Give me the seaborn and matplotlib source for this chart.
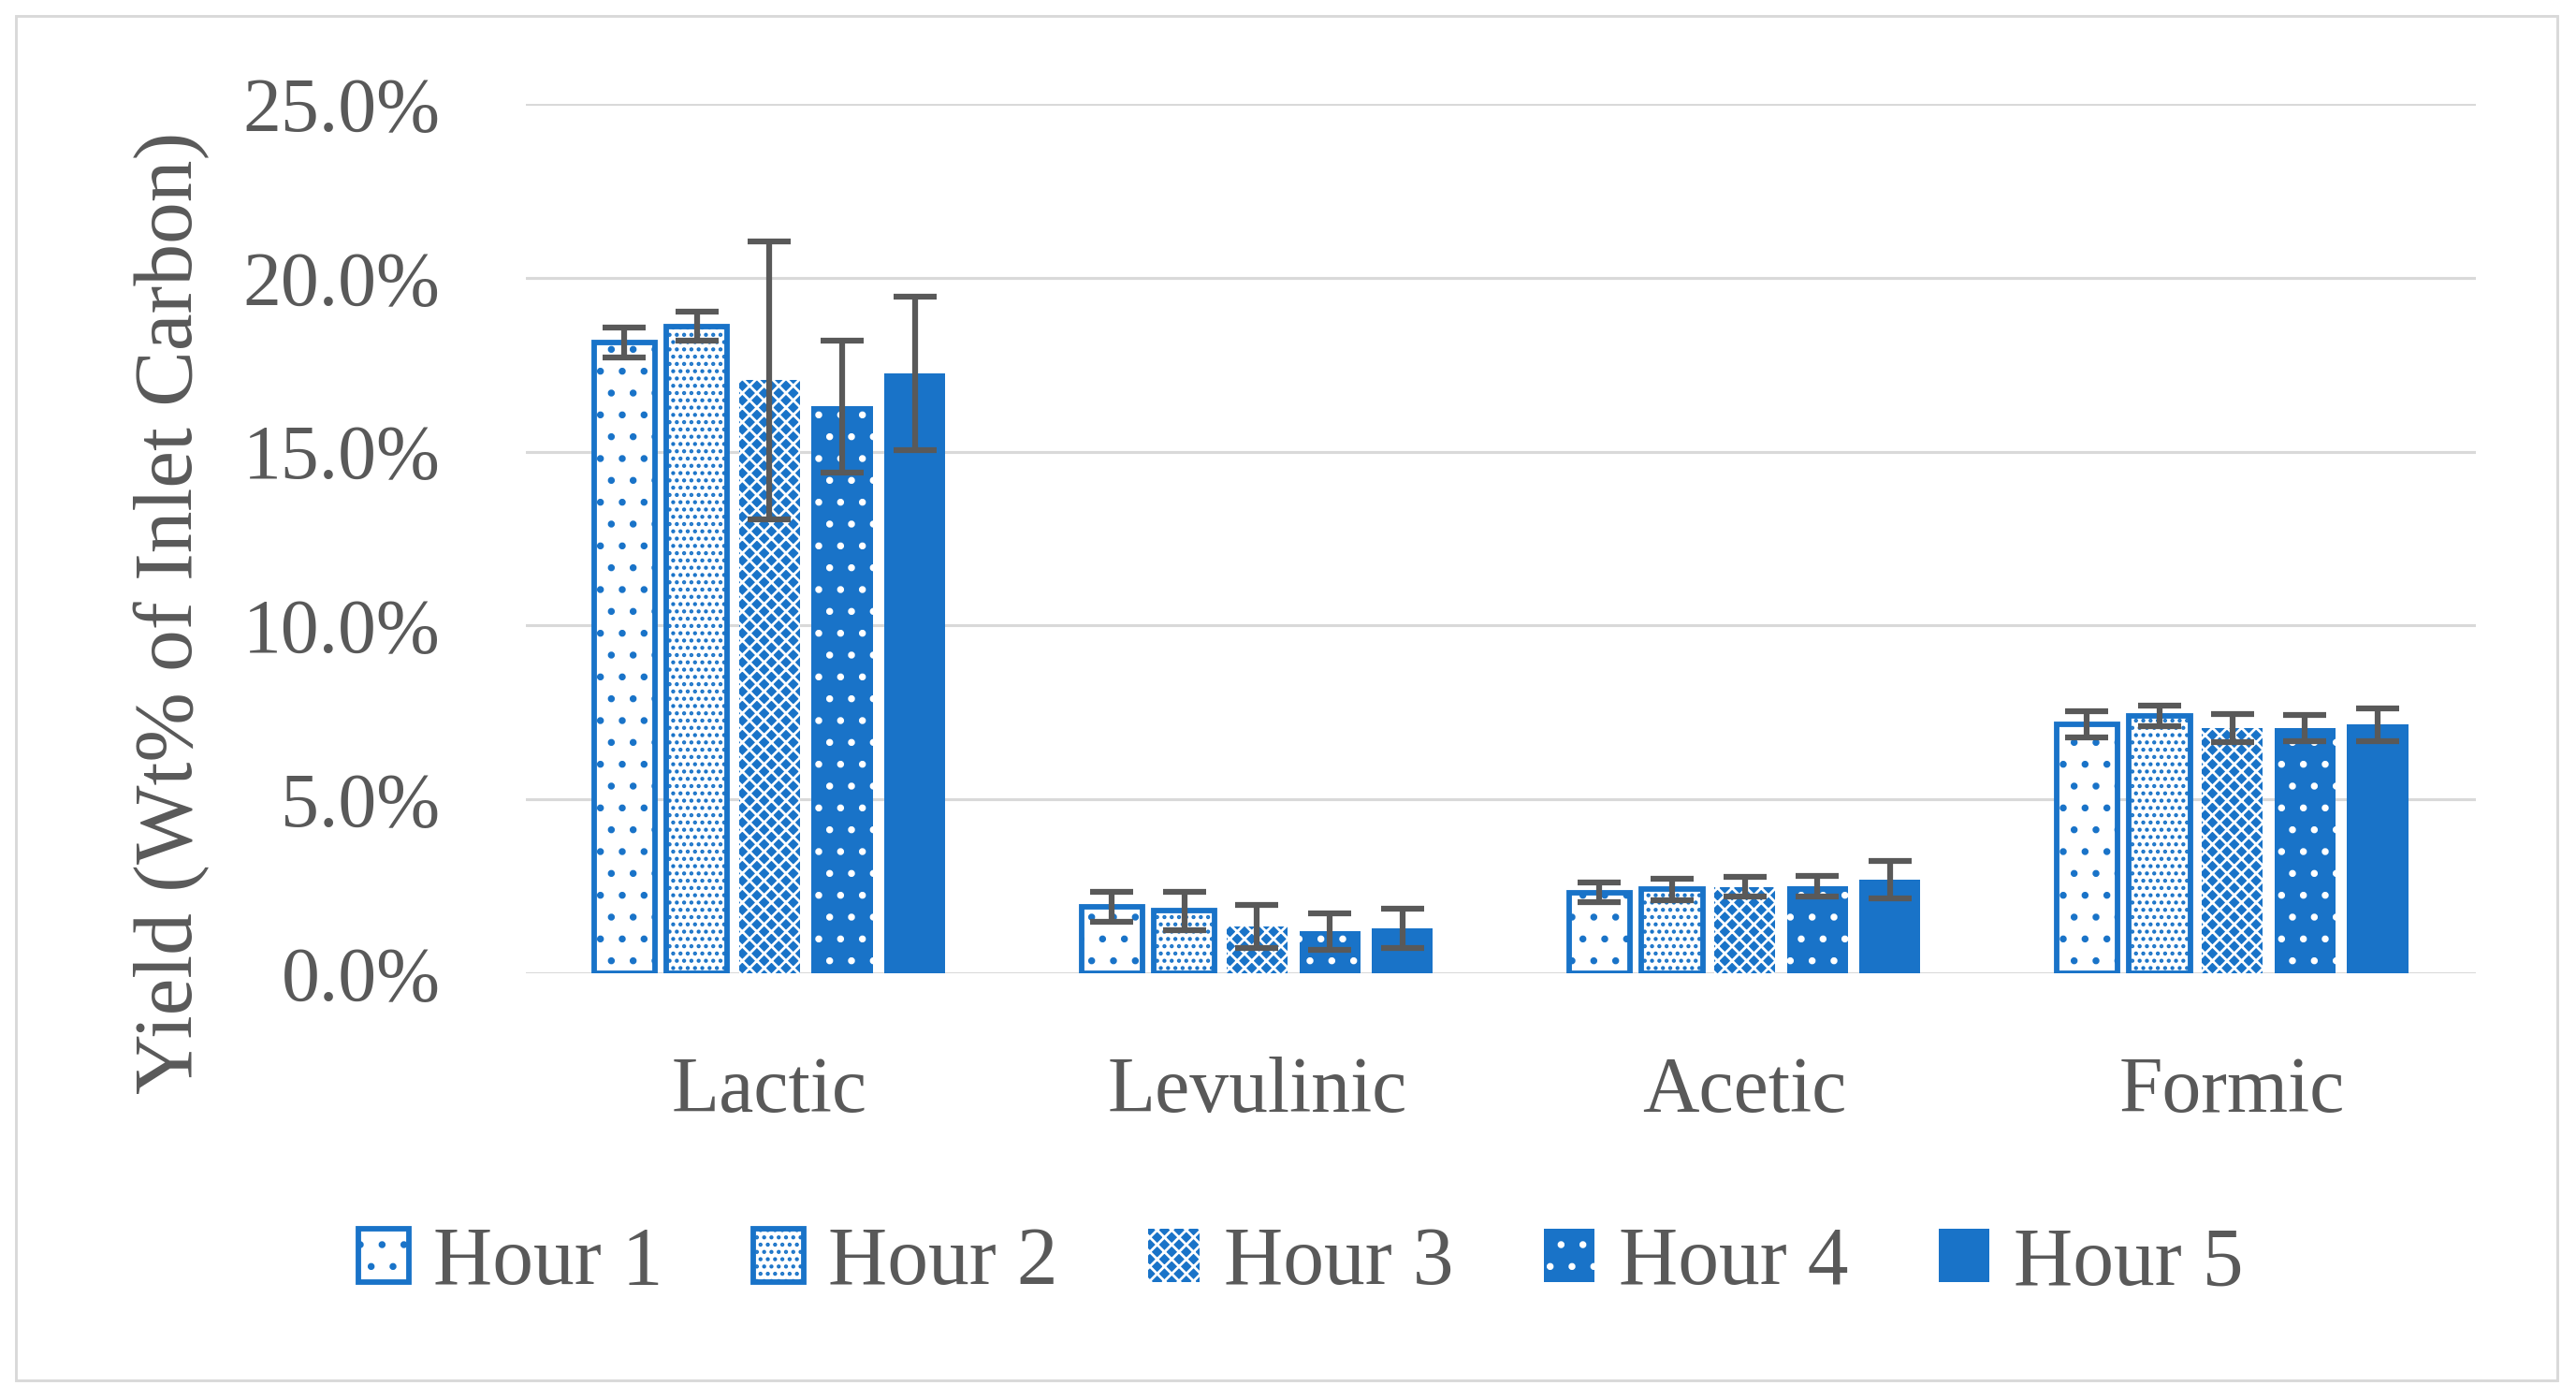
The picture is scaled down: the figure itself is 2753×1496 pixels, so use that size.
# plot.py - yield per acid and hour, grouped bars with hatching

import pandas as pd
import matplotlib
matplotlib.use("Agg")
import matplotlib.pyplot as plt
from matplotlib.patches import Rectangle
from matplotlib.ticker import PercentFormatter
import seaborn as sns

# data (yield as fraction of inlet carbon)
acids = ["Lactic", "Levulinic", "Acetic", "Formic"]
hours = ["Hour 1", "Hour 2", "Hour 3", "Hour 4", "Hour 5"]
hour1 = [0.1815, 0.0190, 0.0232, 0.0715]
hour2 = [0.1860, 0.0180, 0.0241, 0.0740]
hour3 = [0.1705, 0.0135, 0.0248, 0.0705]
hour4 = [0.1630, 0.0120, 0.0250, 0.0705]
hour5 = [0.1725, 0.0130, 0.0269, 0.0715]
err1 = [0.0043, 0.0043, 0.0028, 0.0038]
err2 = [0.0042, 0.0055, 0.0030, 0.0030]
err3 = [0.0400, 0.0062, 0.0028, 0.0040]
err4 = [0.0190, 0.0052, 0.0030, 0.0038]
err5 = [0.0220, 0.0056, 0.0054, 0.0047]
yticks = [0.0, 0.05, 0.10, 0.15, 0.20, 0.25]

values = [hour1, hour2, hour3, hour4, hour5]
errors = [err1, err2, err3, err4, err5]

rows = []
for h, vals in zip(hours, values):
    for a, v in zip(acids, vals):
        rows.append({"acid": a, "hour": h, "value": v})
df = pd.DataFrame(rows)

BLUE = "#1973C8"
GREY = "#595959"
GRID = "#D9D9D9"

sns.set_theme(style="white")
plt.rcParams["font.family"] = ["Liberation Serif", "DejaVu Serif"]
plt.rcParams["hatch.linewidth"] = 1.4

DPI = 140
fig = plt.figure(figsize=(2753 / DPI, 1496 / DPI), dpi=DPI)
ax = fig.add_axes([0.2041, 0.3048, 0.7571, 0.6210])

sns.barplot(data=df, x="acid", y="value", hue="hour", order=acids, hue_order=hours,
            palette=[BLUE] * len(hours), width=0.745, gap=0.16,
            errorbar=None, legend=False, ax=ax)

# (face, edge/hatch colour, hatch, edge width) for each hour
styles = [
    ("white", BLUE, ".", 3.0),
    ("white", BLUE, "...", 3.0),
    (BLUE, "white", "xxx", 0),
    (BLUE, "white", ".", 0),
    (BLUE, BLUE, "", 0),
]

bar_containers = list(ax.containers)
for cont, (fc, ec, hatch, lw), errs in zip(bar_containers, styles, errors):
    xs, ys = [], []
    for p in cont.patches:
        p.set_facecolor(fc)
        p.set_edgecolor(ec)
        p.set_hatch(hatch)
        p.set_linewidth(lw)
        xs.append(p.get_x() + p.get_width() / 2)
        ys.append(p.get_height())
    ax.errorbar(xs, ys, yerr=errs, fmt="none", ecolor=GREY, elinewidth=3.2,
                capsize=12, capthick=3.2, zorder=4)

ax.set_ylim(0, 0.25)
ax.set_xlim(-0.5, len(acids) - 0.5)
ax.set_yticks(yticks)
ax.yaxis.set_major_formatter(PercentFormatter(1.0, decimals=1))
ax.yaxis.grid(True, color=GRID, linewidth=1.6)
ax.set_axisbelow(True)
for s in ax.spines.values():
    s.set_visible(False)

ax.tick_params(axis="y", length=0, pad=47, labelsize=42, labelcolor=GREY)
ax.tick_params(axis="x", length=0, pad=46, labelsize=43, labelcolor=GREY)
ax.set_xlabel("")
ax.set_ylabel("Yield (Wt% of Inlet Carbon)", fontsize=46, color=GREY)
ax.yaxis.set_label_coords(-0.162, 0.415)

# legend below the plot, handles copied from the bars
handles = [c.patches[0] for c in bar_containers]
leg = fig.legend(handles, hours, loc="center", bbox_to_anchor=(0.505, 0.097),
                 ncol=len(hours), frameon=False, fontsize=45,
                 handlelength=0.62, handleheight=0.62, handletextpad=0.3,
                 columnspacing=1.1)
for t in leg.get_texts():
    t.set_color(GREY)

# thin grey frame around the whole chart
fig.add_artist(Rectangle((17 / 2753, 1 - 1475 / 1496), (2733 - 17) / 2753, (1475 - 17) / 1496,
                         transform=fig.transFigure, fill=False, edgecolor=GRID, linewidth=1.5))

fig.savefig("out.png", dpi=DPI)
plt.close(fig)
